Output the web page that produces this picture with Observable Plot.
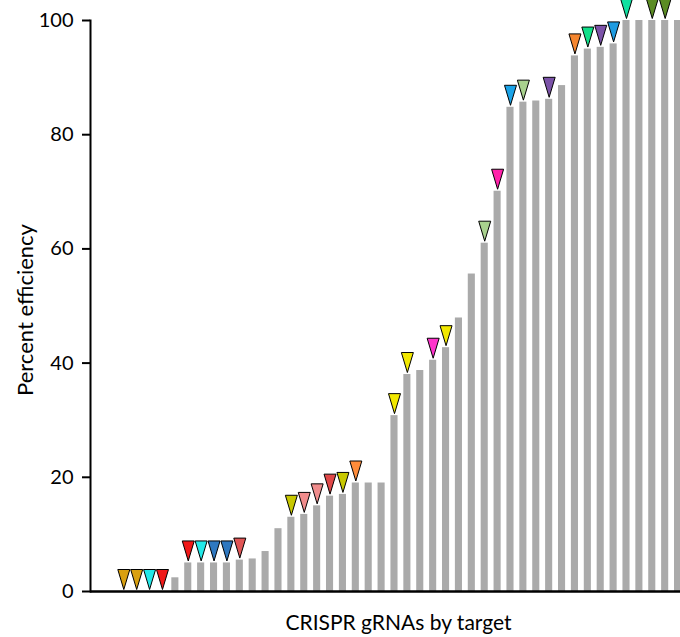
<!DOCTYPE html>
<html><head><meta charset="utf-8">
<script src="https://cdn.jsdelivr.net/npm/d3@7"></script>
<script src="https://cdn.jsdelivr.net/npm/@observablehq/plot@0.6"></script>
<style>body{margin:0;background:#fff}</style>
</head><body><div id="chart"></div>
<script>
// Percent efficiency of each CRISPR gRNA, sorted ascending
const efficiency = [0,0,0,0,2.4,5,5,5,5,5.5,5.7,7,11,13,13.5,15,16.7,17,19,19,19,30.8,38,38.7,40.5,42.7,47.9,55.6,61,70.1,84.8,85.7,85.9,86.2,88.6,93.8,95,95.3,95.9,100,100,100,100,100];
// Target marker colour per gRNA (null = no marker)
const markerColors = ["#D9A010","#D9A010","#22E8E8","#F01818",null,"#F01818","#22E8E8","#2F78C0","#2F78C0","#E05555",null,null,null,"#C8C800","#F08C8C","#F08C8C","#E04848","#C8C800","#FF8C3A",null,null,"#F2E800","#F2E800",null,"#FF33CC","#F2E800",null,null,"#A9D18E","#FF22AA","#1AA3E8","#A9D18E",null,"#7B52A8",null,"#F5862F","#10E08A","#7B52A8","#1E9BE0","#10E0A0",null,"#5B8C23","#5B8C23",null];
const yTicks = [0,20,40,60,80,100];
const yLabel = "Percent efficiency";
const xLabel = "CRISPR gRNAs by target";

const ids = efficiency.map((_, i) => "g" + (i + 1));
const data = efficiency.map((v, i) => ({id: ids[i], v, c: markerColors[i]}));
const markerData = data.filter(d => d.c);

const downTri = {
  draw(ctx, size) {
    const r = Math.sqrt(size / Math.PI);
    const w = r * 0.6, h = r * 2;
    ctx.moveTo(-w, -h); ctx.lineTo(w, -h); ctx.lineTo(0, 0); ctx.closePath();
  }
};

const plot = Plot.plot({
  width: 680, height: 637,
  marginLeft: 90, marginRight: 0, marginTop: 20, marginBottom: 46,
  style: {fontFamily: "Lato, 'Open Sans', sans-serif", color: "#000", background: "#fff", overflow: "hidden"},
  x: {domain: ids, range: [113.96, 686.9], padding: 0.45, axis: null},
  y: {domain: [0, 100], axis: null},
  marks: [
    Plot.barY(data, {x: "id", y: "v", fill: "#AAAAAA"}),
    Plot.ruleY([0], {stroke: "#000", strokeWidth: 2.5}),
    Plot.frame({anchor: "left", stroke: "#000", strokeWidth: 2}),
    Plot.axisY({ticks: yTicks, tickSize: 8, tickPadding: 9, strokeWidth: 2, fontSize: 20, label: null, fill: "#000"}),
    Plot.dot(markerData, {x: "id", y: "v", symbol: downTri, r: 10, fill: "c", stroke: "#000", strokeWidth: 1, dy: -2}),
    Plot.text([yLabel], {frameAnchor: "left", rotate: -90, dx: -65, dy: 4, textAnchor: "middle", fontSize: 22, fill: "#000"}),
    Plot.text([xLabel], {frameAnchor: "bottom", dx: 13, dy: 38, fontSize: 21, fill: "#000"})
  ]
});
document.getElementById("chart").appendChild(plot);
</script>
</body></html>
